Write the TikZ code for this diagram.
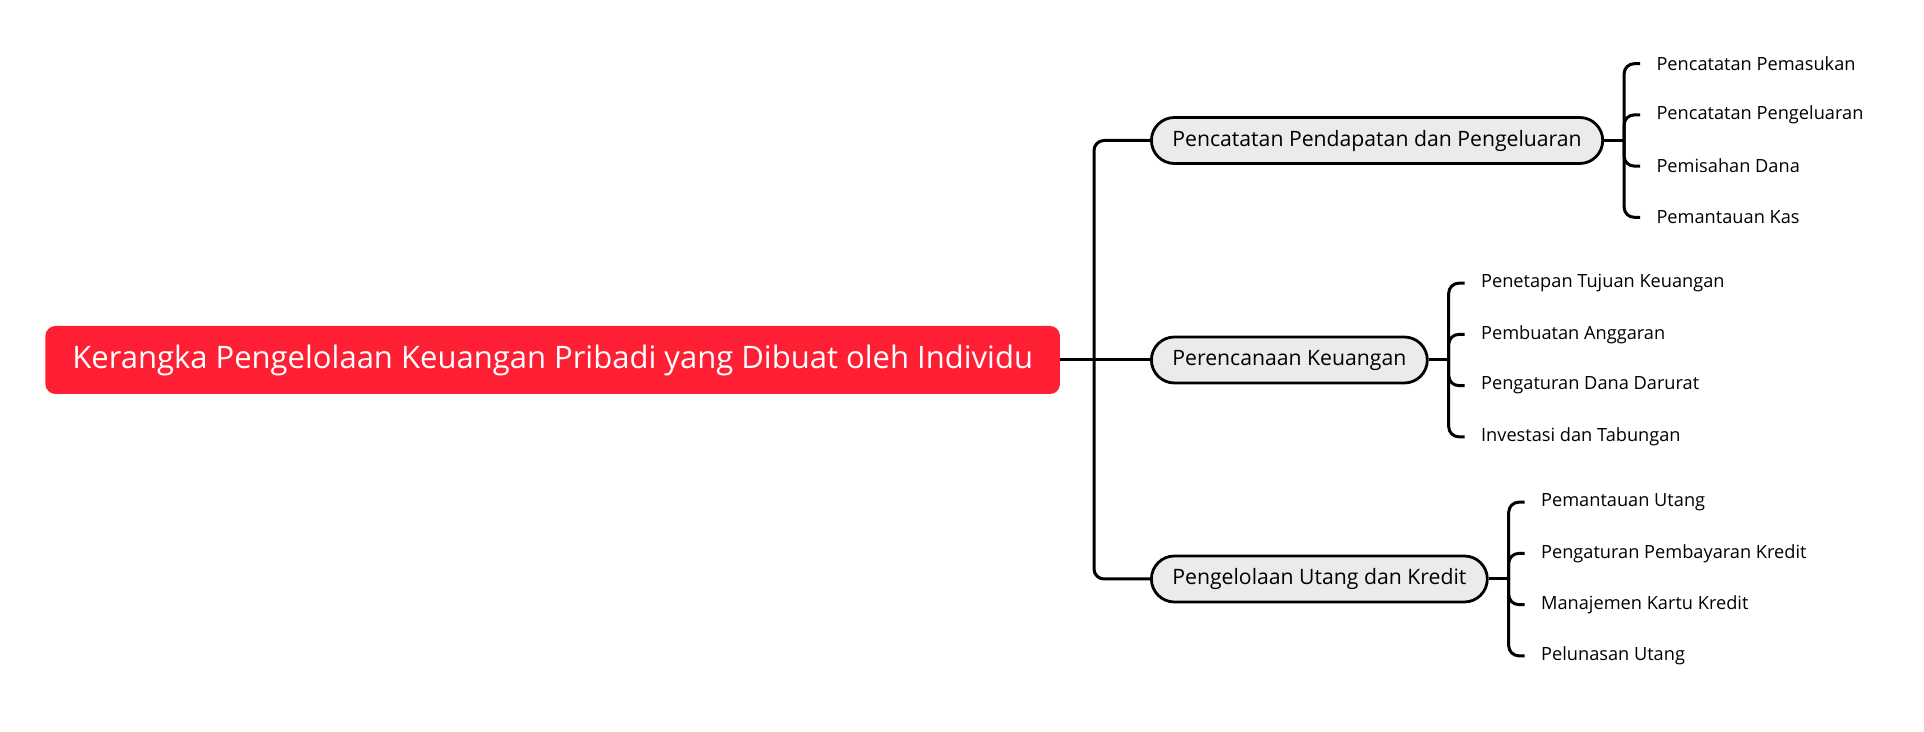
\documentclass[tikz,border=0pt]{standalone}
\usepackage{fontspec}
\setmainfont{Open Sans}
\usetikzlibrary{positioning,calc}
\definecolor{rootred}{HTML}{FE1F34}
\definecolor{topicgrey}{HTML}{EBEBEB}

\tikzset{
    conn/.style={line width=1.5pt, rounded corners=5pt},
    rootbox/.style={anchor=west, fill=rootred, text=white, rounded corners=5pt,
        minimum height=34pt, inner xsep=13.5pt, font=\fontsize{15.5}{18}\selectfont},
    topic/.style={anchor=west, draw, fill=topicgrey, line width=1.4pt, rounded corners=11.5pt,
        minimum height=23pt, inner xsep=10.5pt, font=\fontsize{10.6}{13}\selectfont},
    leaf/.style={anchor=west, inner xsep=8pt, inner ysep=2pt, font=\fontsize{9.1}{11}\selectfont},
}

\begin{document}
\begin{tikzpicture}[x=0.5pt, y=-0.5pt]
    \useasboundingbox (0,0) rectangle (1924,732);

    % Central topic
    \node[rootbox] (root) at (45,360) {Kerangka Pengelolaan Keuangan Pribadi yang Dibuat oleh Individu};

    % Main branches
    \node[topic] (rec) at (1150,140.5) {Pencatatan Pendapatan dan Pengeluaran};
    \node[topic] (plan) at (1150,360) {Perencanaan Keuangan};
    \node[topic] (debt) at (1150,579) {Pengelolaan Utang dan Kredit};

    \coordinate (trunk) at (1094,360);
    \draw[conn] (root.east) -- (trunk);
    \draw[conn] (trunk) |- (rec.west);
    \draw[conn] (trunk) -- (plan.west);
    \draw[conn] (trunk) |- (debt.west);

    % Junctions for the sub-branches
    \coordinate[right=10pt of rec.east] (jrec);
    \coordinate[right=10pt of plan.east] (jplan);
    \coordinate[right=10pt of debt.east] (jdebt);
    \draw[conn] (rec.east) -- (jrec);
    \draw[conn] (plan.east) -- (jplan);
    \draw[conn] (debt.east) -- (jdebt);

    % Sub-branches
    \foreach \txt [count=\i] in {Pencatatan Pemasukan, Pencatatan Pengeluaran, Pemisahan Dana, Pemantauan Kas} {
        \node[leaf] (rec\i) at ($(jrec)+(16,{(\i-2.5)*51.2})$) {\txt};
        \draw[conn] (jrec) |- (rec\i.west);
    }
    \foreach \txt [count=\i] in {Penetapan Tujuan Keuangan, Pembuatan Anggaran, Pengaturan Dana Darurat, Investasi dan Tabungan} {
        \node[leaf] (plan\i) at ($(jplan)+(16,{(\i-2.5)*51.2})$) {\txt};
        \draw[conn] (jplan) |- (plan\i.west);
    }
    \foreach \txt [count=\i] in {Pemantauan Utang, Pengaturan Pembayaran Kredit, Manajemen Kartu Kredit, Pelunasan Utang} {
        \node[leaf] (debt\i) at ($(jdebt)+(16,{(\i-2.5)*51.2})$) {\txt};
        \draw[conn] (jdebt) |- (debt\i.west);
    }
\end{tikzpicture}
\end{document}
